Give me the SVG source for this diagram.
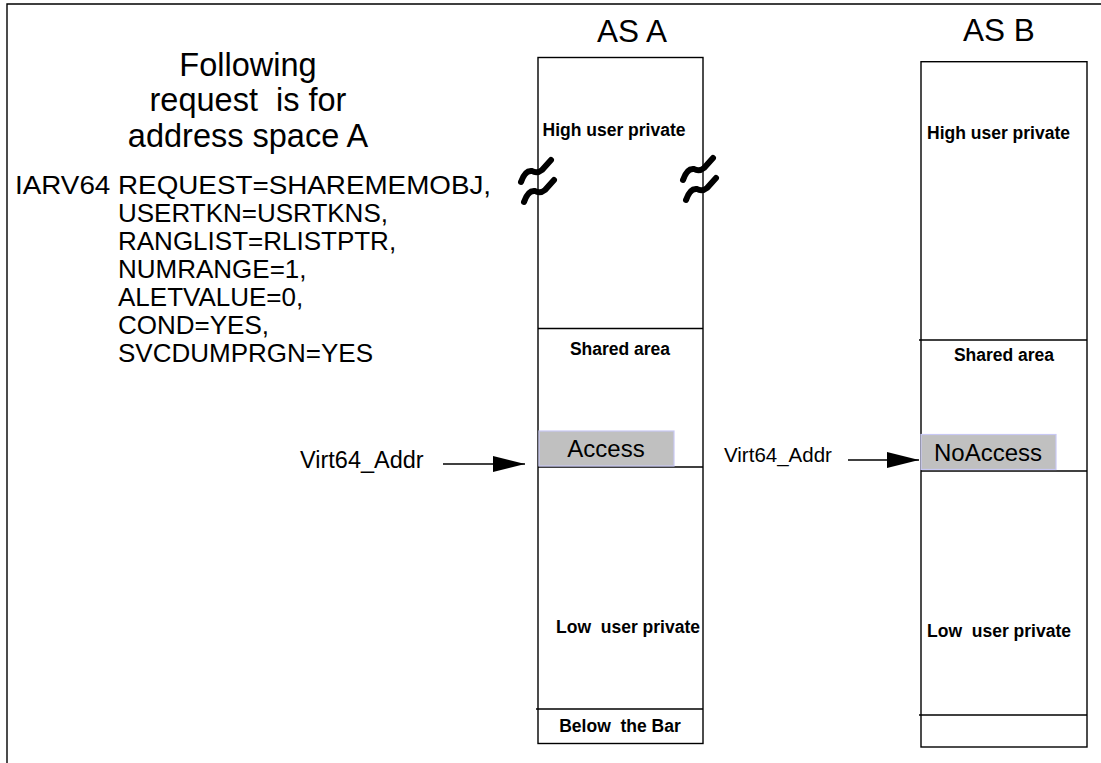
<svg xmlns="http://www.w3.org/2000/svg" width="1101" height="763" viewBox="0 0 1101 763">
<style>
.t{font-family:"Liberation Sans",Arial,sans-serif;fill:#000}
.b{font-family:"Liberation Sans",Arial,sans-serif;font-weight:bold;font-size:17.5px;fill:#000;text-anchor:middle}
.box{fill:#fff;stroke:#000;stroke-width:1.4}
.ln{stroke:#000;stroke-width:1.4;fill:none}
.hl{fill:#c0c0c0;stroke:#c8c8f4;stroke-width:1.2}
.sq{fill:none;stroke:#000;stroke-width:6;stroke-linecap:round;stroke-linejoin:round}
.arr{stroke:#000;stroke-width:1.4;fill:none;marker-end:url(#ah)}
</style>
<defs>
<marker id="ah" markerUnits="userSpaceOnUse" markerWidth="34" markerHeight="18" refX="32" refY="8.5" orient="auto">
<path d="M0,0.5 L32,8.5 L0,16.5 z" fill="#000"/>
</marker>
<g id="squig">
<path class="sq" d="M521,182 Q525,170 532,171 Q537,174 542,170 L551,160"/>
<path class="sq" d="M524,202 Q528,190 535,191 Q540,194 545,190 L554,180"/>
</g>
</defs>
<rect width="1101" height="763" fill="#fff"/>
<path class="ln" d="M7,763 L7,4 L1101,4"/>

<g id="request-text">
<text class="t" font-size="32.5" text-anchor="middle" x="248" y="76">Following</text>
<text class="t" font-size="32.5" text-anchor="middle" x="248" y="111" xml:space="preserve">request  is for</text>
<text class="t" font-size="32.5" text-anchor="middle" x="248" y="147">address space A</text>
<text class="t" font-size="26" x="0" y="0" transform="translate(15,194) scale(1.07,1)">IARV64 REQUEST=SHAREMEMOBJ,</text>
<text class="t" font-size="26" x="118" y="222">USERTKN=USRTKNS,</text>
<text class="t" font-size="26" x="118" y="250">RANGLIST=RLISTPTR,</text>
<text class="t" font-size="26" x="118" y="278">NUMRANGE=1,</text>
<text class="t" font-size="26" x="118" y="306">ALETVALUE=0,</text>
<text class="t" font-size="26" x="118" y="334">COND=YES,</text>
<text class="t" font-size="26" x="118" y="362">SVCDUMPRGN=YES</text>
</g>

<g id="as-a">
<text class="t" font-size="31.5" text-anchor="middle" x="632" y="41.5">AS A</text>
<rect class="box" x="538" y="57.5" width="165" height="686"/>
<line class="ln" x1="538" y1="328.5" x2="703" y2="328.5"/>
<line class="ln" x1="538" y1="467" x2="703" y2="467"/>
<line class="ln" x1="536" y1="709" x2="703" y2="709"/>
<text class="b" x="614" y="136">High user private</text>
<text class="b" x="620" y="355">Shared area</text>
<rect class="hl" x="539" y="431" width="135" height="35"/>
<text class="t" font-size="24" text-anchor="middle" x="606" y="457">Access</text>
<text class="b" x="628" y="633" xml:space="preserve">Low  user private</text>
<text class="b" x="620" y="732" xml:space="preserve">Below  the Bar</text>
<use href="#squig"/>
<use href="#squig" transform="translate(162,-2)"/>
</g>

<g id="as-b">
<text class="t" font-size="31.5" text-anchor="middle" x="999" y="40.7">AS B</text>
<rect class="box" x="921" y="61.7" width="166" height="685.3"/>
<line class="ln" x1="919" y1="340" x2="1087" y2="340"/>
<line class="ln" x1="921" y1="471" x2="1087" y2="471"/>
<line class="ln" x1="919" y1="715" x2="1087" y2="715"/>
<text class="b" x="998.5" y="138.5">High user private</text>
<text class="b" x="1004" y="361">Shared area</text>
<rect class="hl" x="921" y="434.5" width="135" height="35"/>
<text class="t" font-size="24" text-anchor="middle" x="988" y="461">NoAccess</text>
<text class="b" x="999" y="637" xml:space="preserve">Low  user private</text>
</g>

<g id="label-a">
<text class="t" font-size="23.5" x="300" y="468">Virt64_Addr</text>
</g>
<g id="label-b">
<text class="t" font-size="20.5" x="724" y="462">Virt64_Addr</text>
</g>

<g id="connectors">
<line class="arr" x1="443" y1="464" x2="525" y2="464"/>
<line class="arr" x1="848" y1="460" x2="919" y2="460"/>
</g>
</svg>
